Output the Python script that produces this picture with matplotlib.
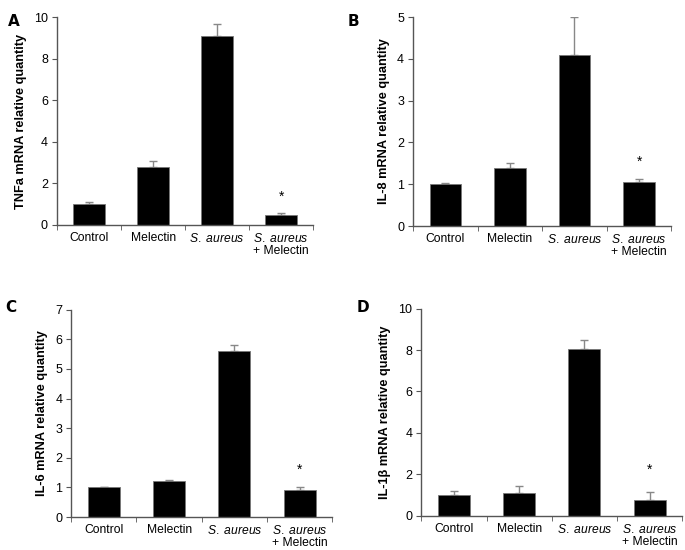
import numpy as np
import matplotlib
matplotlib.use("Agg")
import matplotlib.pyplot as plt

plt.rcParams['font.family'] = ['Liberation Sans', 'DejaVu Sans']
plt.rcParams['mathtext.fontset'] = 'custom'
plt.rcParams['mathtext.it'] = 'Liberation Sans:italic'
plt.rcParams['mathtext.rm'] = 'Liberation Sans'

categories = ['Control', 'Melectin', r'$\it{S.\ aureus}$', r'$\it{S.\ aureus}$' + '\n+ Melectin']

tnfa_vals = [1.0, 2.8, 9.1, 0.47]
tnfa_err = [0.08, 0.3, 0.55, 0.12]
il8_vals = [1.0, 1.38, 4.1, 1.05]
il8_err = [0.02, 0.13, 0.9, 0.07]
il6_vals = [1.0, 1.22, 5.6, 0.9]
il6_err = [0.02, 0.03, 0.2, 0.1]
il1b_vals = [1.0, 1.1, 8.05, 0.75]
il1b_err = [0.2, 0.35, 0.45, 0.38]

ylabels = ['TNFa mRNA relative quantity', 'IL-8 mRNA relative quantity',
           'IL-6 mRNA relative quantity', 'IL-1β mRNA relative quantity']
ymaxes = [10, 5, 7, 10]
ysteps = [2, 1, 1, 2]
star_y = [1.35, 1.53, 1.59, 2.23]
letters = ['A', 'B', 'C', 'D']

# axes boxes in figure fractions [left, bottom, width, height]
boxes = [[0.0832, 0.591, 0.374, 0.378],
         [0.603, 0.589, 0.377, 0.380],
         [0.104, 0.060, 0.381, 0.377],
         [0.615, 0.062, 0.381, 0.377]]
letter_pos = [(0.012, 0.975), (0.507, 0.975), (0.008, 0.455), (0.520, 0.455)]

fig = plt.figure(figsize=(6.85, 5.5), dpi=100)
data = [(tnfa_vals, tnfa_err), (il8_vals, il8_err), (il6_vals, il6_err), (il1b_vals, il1b_err)]
axcol = '#555555'

for i, (vals, errs) in enumerate(data):
    ax = fig.add_axes(boxes[i])
    x = np.arange(len(vals))
    ax.bar(x, vals, width=0.49, color='black', edgecolor='#777777', linewidth=0.6, zorder=2)
    ax.errorbar(x, vals, yerr=[np.zeros(len(errs)), errs], fmt='none', ecolor='#888888',
                elinewidth=1.0, capsize=3, capthick=1.0, zorder=1)
    ax.set_xlim(-0.5, 3.5)
    ax.set_ylim(0, ymaxes[i])
    ax.set_yticks(np.arange(0, ymaxes[i] + 0.01, ysteps[i]))
    ax.set_xticks(x)
    ax.set_xticklabels(categories, fontsize=8.7, va='top', linespacing=1.0)
    ax.set_xticks(np.arange(-0.5, 3.6, 1), minor=True)
    ax.tick_params(axis='x', which='major', length=0, pad=5)
    ax.tick_params(axis='x', which='minor', length=3.5, direction='out', color=axcol)
    ax.tick_params(axis='y', length=3.5, direction='out', color=axcol, labelsize=9, pad=3)
    for s in ['top', 'right']:
        ax.spines[s].set_visible(False)
    for s in ['left', 'bottom']:
        ax.spines[s].set_color(axcol)
        ax.spines[s].set_linewidth(1.0)
    ax.set_ylabel(ylabels[i], fontsize=9.2, fontweight='bold', labelpad=5)
    ax.text(3, star_y[i], '*', ha='center', va='center', fontsize=10)
    fig.text(letter_pos[i][0], letter_pos[i][1], letters[i], fontsize=11, fontweight='bold',
             family='DejaVu Sans', va='top')

fig.savefig('out.png', dpi=100)
